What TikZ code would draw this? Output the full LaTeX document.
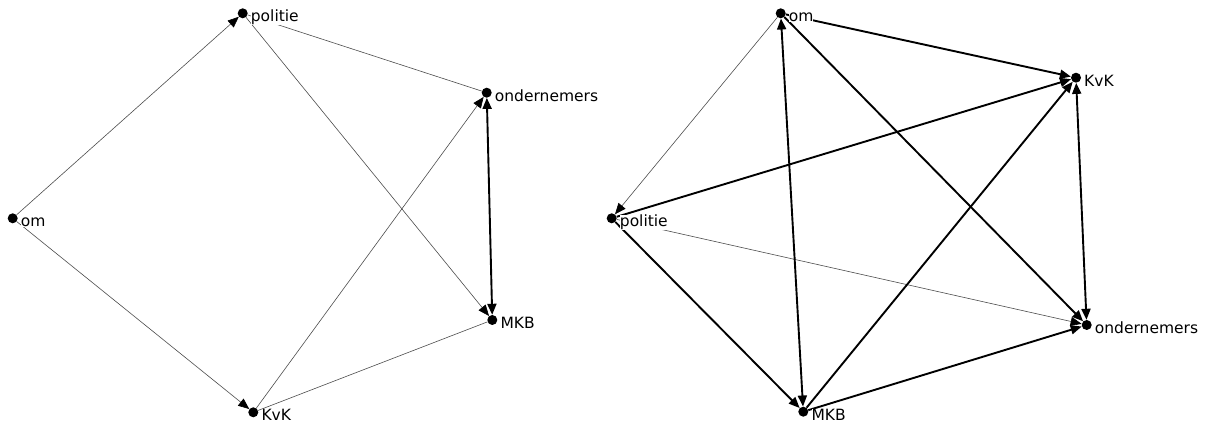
\documentclass[tikz,border=0pt]{standalone}
\usepackage{fontspec}
\setmainfont{DejaVu Sans}
\usetikzlibrary{arrows.meta}

\begin{document}
\begin{tikzpicture}[x=1pt,y=-1pt,
	actor/.style={circle,fill,inner sep=0pt,minimum size=10pt},
	naam/.style={anchor=base west,inner sep=0pt,fill=white,xshift=8pt,yshift=-8.5pt,font=\fontsize{15.5}{18}\selectfont},
	weak/.style={line width=0.6pt,black!70},
	strong/.style={line width=1.9pt},
	pointed/.style={-{Triangle[length=11pt,width=9pt,color=black]}},
	bothpointed/.style={{Triangle[length=11pt,width=9pt,color=black]}-{Triangle[length=11pt,width=9pt,color=black]}}]
\useasboundingbox (0,0) rectangle (1220,427);
% left network
\node[actor] (politie) at (242.7,13.3) {};
\node[actor] (ondernemers) at (486.7,92.7) {};
\node[actor] (om) at (12.7,218.3) {};
\node[actor] (mkb) at (492.3,320) {};
\node[actor] (kvk) at (253.3,412.3) {};
\draw[weak,pointed] (om) -- (politie);
\draw[weak,pointed] (om) -- (kvk);
\draw[weak] (politie) -- (ondernemers);
\draw[weak,pointed] (politie) -- (mkb);
\draw[weak,pointed] (kvk) -- (ondernemers);
\draw[weak] (kvk) -- (mkb);
\draw[strong,bothpointed] (ondernemers) -- (mkb);
\node[naam] at (politie) {politie};
\node[naam] at (ondernemers) {ondernemers};
\node[naam] at (om) {om};
\node[naam] at (mkb) {MKB};
\node[naam] at (kvk) {KvK};
% right network
\node[actor] (om2) at (780.7,13.3) {};
\node[actor] (kvk2) at (1076,77.7) {};
\node[actor] (politie2) at (611.7,218.3) {};
\node[actor] (ondernemers2) at (1086.7,325) {};
\node[actor] (mkb2) at (803.3,411.7) {};
\draw[weak,pointed] (om2) -- (politie2);
\draw[weak,pointed] (politie2) -- (ondernemers2);
\draw[strong,pointed] (om2) -- (kvk2);
\draw[strong,pointed] (om2) -- (ondernemers2);
\draw[strong,bothpointed] (om2) -- (mkb2);
\draw[strong,pointed] (politie2) -- (kvk2);
\draw[strong,pointed] (politie2) -- (mkb2);
\draw[strong,pointed] (mkb2) -- (kvk2);
\draw[strong,pointed] (mkb2) -- (ondernemers2);
\draw[strong,bothpointed] (kvk2) -- (ondernemers2);
\node[naam] at (om2) {om};
\node[naam] at (kvk2) {KvK};
\node[naam] at (politie2) {politie};
\node[naam] at (ondernemers2) {ondernemers};
\node[naam] at (mkb2) {MKB};
\end{tikzpicture}
\end{document}
